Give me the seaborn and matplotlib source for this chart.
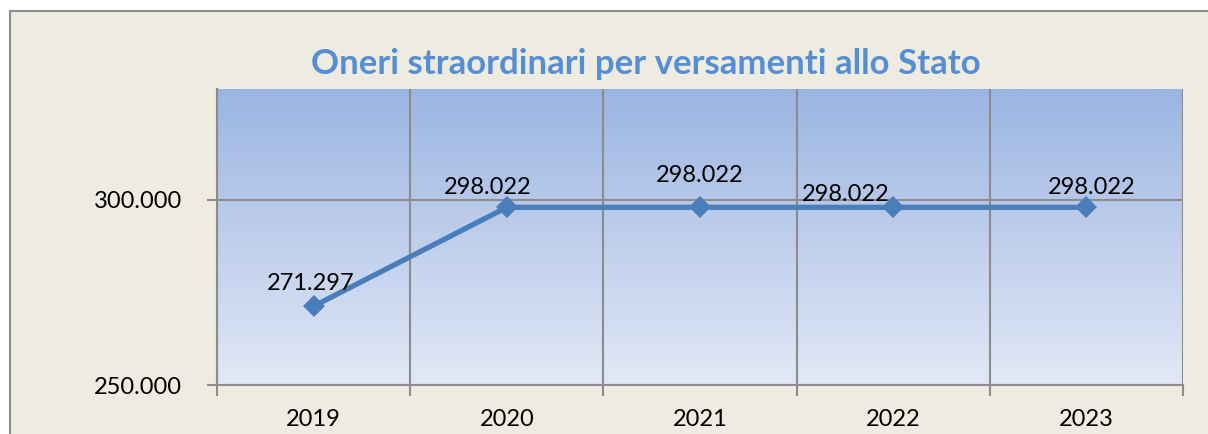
import numpy as np
import pandas as pd
import seaborn as sns
import matplotlib.pyplot as plt
from matplotlib.patches import Rectangle
from matplotlib.ticker import FuncFormatter, FixedLocator

years = ['2019', '2020', '2021', '2022', '2023']
valori = [271297, 298022, 298022, 298022, 298022]
etichette = ['271.297', '298.022', '298.022', '298.022', '298.022']
# label offsets in points (dx, dy), as placed in the original chart
offsets = [(-2, 16), (-14, 14), (0, 23), (-34, 9), (4, 14)]

df = pd.DataFrame({'anno': years, 'valore': valori})

sns.set_theme(style='white')
plt.rcParams['font.family'] = ['Lato', 'DejaVu Sans']

fig = plt.figure(figsize=(12.08, 4.34), dpi=100)
fig.patch.set_facecolor('white')
fig.patches.append(Rectangle((10 / 1208, -0.1), 1.2, (434 - 11) / 434 + 0.1,
                             transform=fig.transFigure, facecolor='#EEEBE0',
                             edgecolor='#8C8C8C', linewidth=1.5, zorder=-10))

ax = fig.add_axes([217 / 1208, (434 - 385) / 434, (1183 - 217) / 1208, (385 - 89) / 434])
ax.set_facecolor('none')

# gradient fill of the plot area
grad = np.linspace(0, 1, 256).reshape(-1, 1)
top = np.array([0x9B, 0xB5, 0xE2]) / 255
bot = np.array([0xE2, 0xE8, 0xF6]) / 255
img = top + (bot - top) * grad[:, :, None]
ax.imshow(img, extent=[0, 1, 0, 1], transform=ax.transAxes, aspect='auto', zorder=0)

sns.lineplot(data=df, x='anno', y='valore', ax=ax, color='#4A7EBB', linewidth=3.8,
             marker='D', markersize=11, markeredgewidth=0, zorder=3)

ax.set_xlim(-0.5, 4.5)
ax.set_ylim(250000, 330000)
ax.set_xlabel('')
ax.set_ylabel('')

ax.yaxis.set_major_locator(FixedLocator([250000, 300000]))
ax.yaxis.set_major_formatter(FuncFormatter(lambda v, p: f'{v / 1000:.3f}'))
ax.xaxis.set_minor_locator(FixedLocator(np.arange(-0.5, 5, 1)))
ax.grid(False)
ax.grid(True, axis='y', which='major', color='#8C8C8C', linewidth=1.5, zorder=1)
ax.grid(True, axis='x', which='minor', color='#8C8C8C', linewidth=1.5, zorder=1)

ax.tick_params(axis='x', which='major', length=0, pad=17, labelsize=17, colors='black')
ax.tick_params(axis='x', which='minor', length=8, width=1.5, color='#8C8C8C', bottom=True)
ax.tick_params(axis='y', length=7, width=1.5, color='#8C8C8C', pad=18, labelsize=17,
               left=True, colors='black')
for lab in ax.get_xticklabels() + ax.get_yticklabels():
    lab.set_color('black')

for s in ['top', 'right']:
    ax.spines[s].set_visible(False)
for s in ['left', 'bottom']:
    ax.spines[s].set_color('#8C8C8C')
    ax.spines[s].set_linewidth(1.5)

for i, (v, t) in enumerate(zip(valori, etichette)):
    ax.annotate(t, (i, v), xytext=offsets[i], textcoords='offset points',
                ha='center', va='center', fontsize=17, color='black', zorder=4)

fig.text(646 / 1208, 1 - 64 / 434, 'Oneri straordinari per versamenti allo Stato',
         ha='center', va='center', fontsize=25, fontweight='bold', color='#558ED5')

fig.savefig('out.png', dpi=100, facecolor=fig.get_facecolor())
